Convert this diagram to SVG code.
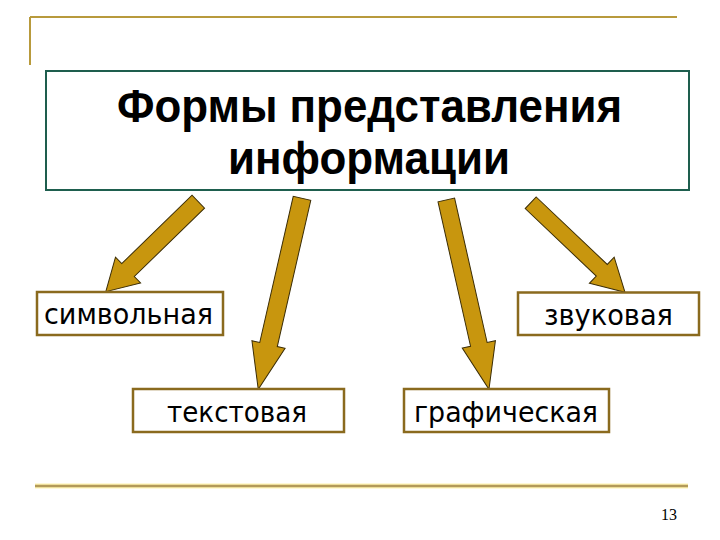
<svg xmlns="http://www.w3.org/2000/svg" width="720" height="540" viewBox="0 0 720 540">
<style>
.deco{stroke:#b89a3c;stroke-width:2;fill:none}
.box{fill:#ffffff;stroke:#8a6a1e;stroke-width:2.5}
.title{fill:#ffffff;stroke:#1e5e4e;stroke-width:2}
.tt{font-family:"Liberation Sans",Arial,sans-serif;font-weight:bold;font-size:46px;fill:#000;text-anchor:middle}
.lbl{font-family:"DejaVu Sans",Verdana,sans-serif;font-size:29px;fill:#000;text-anchor:middle}
.arr{fill:#c8960e;stroke:#3a2c05;stroke-width:1;stroke-linejoin:miter}
</style>
<rect width="720" height="540" fill="#ffffff"/>
<g id="decor">
<path class="deco" d="M30,17 H677 M30,17 V65"/>
<line x1="35" y1="486" x2="688" y2="486" stroke="#fff3b0" stroke-width="5"/>
<line x1="35" y1="486" x2="688" y2="486" stroke="#b39a5a" stroke-width="2.5"/>
<text x="677" y="520" font-family="Liberation Serif,serif" font-size="16" text-anchor="end" fill="#000">13</text>
</g>
<g id="title">
<rect class="title" x="46" y="71" width="643" height="119"/>
<text class="tt" x="369.5" y="122" textLength="505" lengthAdjust="spacingAndGlyphs">Формы представления</text>
<text class="tt" x="369" y="174" textLength="282" lengthAdjust="spacingAndGlyphs">информации</text>
</g>
<g id="connectors">
<path class="arr" transform="translate(198.3,201.7) rotate(135.8)" d="M0,-9 H98 V-18 L129,0 L98,18 V9 H0 Z"/>
<path class="arr" transform="translate(302,198.3) rotate(102.9)" d="M0,-9 H150 V-17 L196,0 L150,17 V9 H0 Z"/>
<path class="arr" transform="translate(446.3,200) rotate(77.3)" d="M0,-8.5 H148 V-17 L194,0 L148,17 V8.5 H0 Z"/>
<path class="arr" transform="translate(530.7,202.8) rotate(43.5)" d="M0,-8 H98 V-18 L130,0 L98,18 V8 H0 Z"/>
</g>
<g id="n-simvolnaya">
<rect class="box" x="37" y="292" width="186" height="43"/>
<text class="lbl" x="128.5" y="324" textLength="169" lengthAdjust="spacingAndGlyphs">символьная</text>
</g>
<g id="n-tekstovaya">
<rect class="box" x="133" y="389" width="211" height="43"/>
<text class="lbl" x="237" y="421.5" textLength="140" lengthAdjust="spacingAndGlyphs">текстовая</text>
</g>
<g id="n-zvukovaya">
<rect class="box" x="518" y="292.5" width="181" height="42.5"/>
<text class="lbl" x="608.5" y="325" textLength="129" lengthAdjust="spacingAndGlyphs">звуковая</text>
</g>
<g id="n-graficheskaya">
<rect class="box" x="404" y="389" width="205" height="43"/>
<text class="lbl" x="506" y="421.5" textLength="184" lengthAdjust="spacingAndGlyphs">графическая</text>
</g>
</svg>
